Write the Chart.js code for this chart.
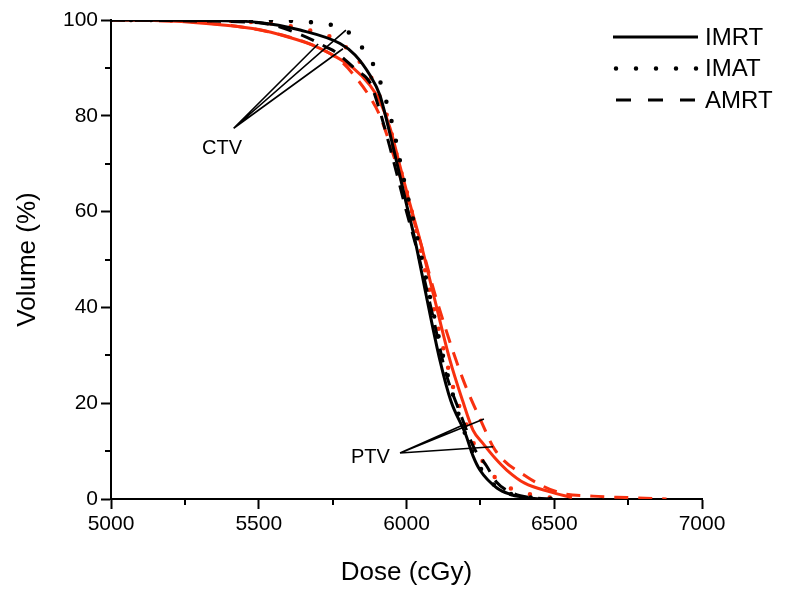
<!DOCTYPE html>
<html>
<head>
<meta charset="utf-8">
<script src="https://cdn.jsdelivr.net/npm/chart.js@4.4.1/dist/chart.umd.min.js"></script>
<style>
  html, body { margin: 0; padding: 0; background: #fff; }
  #wrap { width: 800px; height: 594px; }
</style>
</head>
<body>
<div id="wrap"><canvas id="chart"></canvas></div>
<script>
// Dose (cGy) / volume (%)
// CTV curves (black)
const ctvImrtDose = [5000, 5300, 5500, 5640, 5775, 5826, 5876, 5910, 5937, 5970, 6000, 6029, 6070, 6113, 6150, 6200, 6225, 6249, 6306, 6350, 6394, 6450];
const ctvImrtVol = [100, 99.9, 99.5, 97.9, 95.1, 92.7, 88.5, 84.3, 78, 69.5, 61.5, 54, 41.5, 29, 20.5, 13.5, 9, 6, 2.3, 1, 0.4, 0];

const ctvImatDose = [5000, 5400, 5663, 5728, 5792, 5853, 5893, 5917, 5937, 5954, 5990, 6035, 6080, 6125, 6165, 6205, 6250, 6300, 6350, 6420, 6500];
const ctvImatVol = [100, 100, 99.6, 99.2, 98, 94, 90, 86, 81.8, 77.7, 67, 55, 42, 29.5, 20, 12.5, 6.5, 2.8, 1.1, 0.3, 0];

const ctvAmrtDose = [5000, 5300, 5514, 5640, 5730, 5760, 5832, 5876, 5905, 5950, 6000, 6040, 6090, 6130, 6181, 6230, 6270, 6305, 6360, 6420, 6500];
const ctvAmrtVol = [100, 99.8, 99.3, 97, 94.3, 93.3, 89.5, 87, 82, 72, 60, 51, 38, 27, 18, 10.5, 7, 3.5, 1.2, 0.3, 0];

// PTV curves (red)
const ptvImrtDose = [5000, 5200, 5369, 5500, 5596, 5680, 5741, 5819, 5876, 5910, 5944, 5980, 6010, 6046, 6096, 6147, 6190, 6225, 6260, 6300, 6340, 6400, 6486, 6560];
const ptvImrtVol = [100, 99.8, 99, 98, 96.5, 94.8, 93, 90, 86.4, 83, 77.5, 69, 62, 54, 41.5, 29, 20.5, 14.4, 11.5, 8.5, 6, 3.3, 1.5, 0.3];

const ptvImatDose = [5000, 5400, 5629, 5697, 5765, 5826, 5876, 5907, 5934, 5970, 6010, 6086, 6147, 6164, 6200, 6242, 6300, 6350, 6450, 6550];
const ptvImatVol = [100, 99.8, 98.5, 97.4, 95.8, 92.3, 88.5, 84.3, 80, 71, 62, 41.5, 25.9, 22, 16, 9.6, 4.5, 2.3, 0.6, 0];

const ptvAmrtDose = [5000, 5300, 5600, 5741, 5785, 5835, 5870, 5910, 5960, 6000, 6050, 6100, 6188, 6255, 6300, 6408, 6519, 6631, 6746, 6880];
const ptvAmrtVol = [100, 99.5, 96.5, 93, 91, 87.5, 84.5, 80, 71, 63, 53, 42, 25.5, 15.9, 10.2, 4.6, 1.3, 0.6, 0.3, 0];

// Legend entries and line styles
const legendLabels = ["IMRT", "IMAT", "AMRT"];

// Annotation arrows (dose, volume) : label, apex, targets
const ctvLabel = { text: "CTV", x: 5376, y: 73.2 };
const ctvApex = [5415, 77.4];
const ctvTargets = [[5701, 95], [5795, 97.9], [5785, 94]];
const ptvLabel = { text: "PTV", x: 5878, y: 8.7 };
const ptvApex = [5978, 9.6];
const ptvTargets = [[6201, 15.7], [6262, 16.7], [6293, 10.9]];

const FONT = "'Liberation Sans', Arial, sans-serif";
const RED = "#f8300f";

const styles = {
  solid: { borderDash: [], borderWidth: 3, borderCapStyle: "butt" },
  dotted: { borderDash: [0, 20], borderWidth: 4.5, borderCapStyle: "round" },
  dashed: { borderDash: [14, 10], borderWidth: 3, borderCapStyle: "butt" },
};

function makeSet(label, dose, vol, color, style) {
  const pts = [];
  for (let i = 0; i < dose.length; i++) {
    pts.push({ x: dose[i], y: vol[i] });
  }
  return Object.assign({
    label: label,
    data: pts,
    borderColor: color,
    pointRadius: 0,
    fill: false,
    cubicInterpolationMode: "monotone",
  }, styles[style]);
}

// black sets first so they sit on top of the red ones
const datasets = [
  makeSet("CTV IMRT", ctvImrtDose, ctvImrtVol, "#000", "solid"),
  makeSet("CTV IMAT", ctvImatDose, ctvImatVol, "#000", "dotted"),
  makeSet("CTV AMRT", ctvAmrtDose, ctvAmrtVol, "#000", "dashed"),
  makeSet("PTV IMRT", ptvImrtDose, ptvImrtVol, RED, "solid"),
  makeSet("PTV IMAT", ptvImatDose, ptvImatVol, RED, "dotted"),
  makeSet("PTV AMRT", ptvAmrtDose, ptvAmrtVol, RED, "dashed"),
];

// Minor ticks, arrows and the line-style legend
const extras = {
  id: "extras",
  afterDraw(chart) {
    const ctx = chart.ctx;
    const xs = chart.scales.x;
    const ys = chart.scales.y;
    const area = chart.chartArea;
    ctx.save();

    // minor ticks
    ctx.strokeStyle = "#000";
    ctx.lineWidth = 2;
    ctx.beginPath();
    for (let d = 5250; d < 7000; d += 500) {
      const px = Math.round(xs.getPixelForValue(d));
      ctx.moveTo(px, area.bottom);
      ctx.lineTo(px, area.bottom + 6);
    }
    for (let v = 10; v < 100; v += 20) {
      const py = Math.round(ys.getPixelForValue(v));
      ctx.moveTo(area.left, py);
      ctx.lineTo(area.left - 6, py);
    }
    ctx.stroke();

    // annotation lines
    function arrows(apex, targets) {
      ctx.beginPath();
      ctx.lineWidth = 1.6;
      const ax = xs.getPixelForValue(apex[0]);
      const ay = ys.getPixelForValue(apex[1]);
      targets.forEach((t) => {
        ctx.moveTo(ax, ay);
        ctx.lineTo(xs.getPixelForValue(t[0]), ys.getPixelForValue(t[1]));
      });
      ctx.stroke();
    }
    arrows(ctvApex, ctvTargets);
    arrows(ptvApex, ptvTargets);

    ctx.fillStyle = "#000";
    ctx.font = "20px " + FONT;
    ctx.textAlign = "center";
    ctx.textBaseline = "middle";
    [ctvLabel, ptvLabel].forEach((l) => {
      ctx.fillText(l.text, xs.getPixelForValue(l.x), ys.getPixelForValue(l.y));
    });

    // legend
    const legendStyles = ["solid", "dotted", "dashed"];
    const legendDash = { solid: [], dotted: [0, 20], dashed: [15, 17] };
    ctx.textAlign = "left";
    ctx.font = "24px " + FONT;
    legendLabels.forEach((name, i) => {
      const y = 37 + i * 31.5;
      const st = styles[legendStyles[i]];
      ctx.beginPath();
      ctx.setLineDash(legendDash[legendStyles[i]]);
      ctx.lineWidth = st.borderWidth;
      ctx.lineCap = st.borderCapStyle;
      ctx.moveTo(legendStyles[i] === "solid" ? 613 : 616, y);
      ctx.lineTo(698, y);
      ctx.stroke();
      ctx.setLineDash([]);
      ctx.fillText(name, 705, y + 1);
    });
    ctx.restore();
  },
};

new Chart(document.getElementById("chart"), {
  type: "line",
  data: { datasets: datasets },
  options: {
    responsive: true,
    maintainAspectRatio: false,
    animation: false,
    layout: { padding: { top: 20, right: 98, left: 0, bottom: 0 } },
    plugins: { legend: { display: false }, tooltip: { enabled: false } },
    scales: {
      x: {
        type: "linear",
        min: 5000,
        max: 7000,
        afterFit(s) { s.height = 95; },
        ticks: { stepSize: 500, color: "#000", padding: 3, font: { family: FONT, size: 21 }, callback: (v) => String(v) },
        grid: { drawOnChartArea: false, tickLength: 10, tickWidth: 2, tickColor: "#000" },
        border: { color: "#000", width: 2 },
        title: { display: true, text: "Dose (cGy)", color: "#000", font: { family: FONT, size: 26 }, padding: { top: 0, bottom: 6 } },
      },
      y: {
        min: 0,
        max: 100,
        afterFit(s) { s.width = 111; },
        ticks: { stepSize: 20, color: "#000", padding: 3, font: { family: FONT, size: 21 }, callback: (v) => String(v) },
        grid: { drawOnChartArea: false, tickLength: 10, tickWidth: 2, tickColor: "#000" },
        border: { color: "#000", width: 2 },
        title: { display: true, text: "Volume (%)", color: "#000", font: { family: FONT, size: 26 }, padding: { top: 12, bottom: 0 } },
      },
    },
  },
  plugins: [extras],
});
</script>
</body>
</html>
